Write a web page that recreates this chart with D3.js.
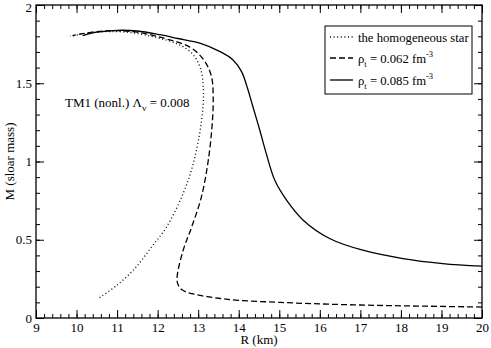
<!DOCTYPE html>
<html>
<head>
<meta charset="utf-8">
<script src="https://cdnjs.cloudflare.com/ajax/libs/d3/7.8.5/d3.min.js"></script>
<style>
	body { margin: 0; background: #fff; }
	svg text { font-family: "Liberation Serif", "Times New Roman", serif; fill: #000; }
	.tick line { stroke: #000; stroke-width: 1; }
</style>
</head>
<body>
<svg width="491" height="348"></svg>
<script>
	// mass-radius curves, [R (km), M (solar mass)]
	var homogeneous = [[10.57,0.13],[11.0,0.21],[11.45,0.32],[11.85,0.454],[12.22,0.582],[12.63,0.796],
		[12.88,0.988],[13.08,1.254],[13.13,1.45],[13.05,1.6],[12.85,1.69],[12.5,1.75],[12.0,1.79],
		[11.5,1.818],[11.0,1.83],[10.5,1.826],[10.1,1.812],[9.84,1.8]];
	var rho062 = [[20,0.07],[19,0.074],[18,0.078],[17,0.083],[16,0.09],[15,0.1],[14,0.113],
		[13.4,0.13],[12.85,0.155],[12.6,0.18],[12.5,0.215],[12.48,0.262],[12.63,0.433],[12.84,0.582],
		[13.08,0.774],[13.25,1.009],[13.35,1.254],[13.37,1.41],[13.33,1.54],[13.15,1.645],[12.8,1.73],
		[12.06,1.794],[11.5,1.826],[11.0,1.836],[10.5,1.83],[10.1,1.815],[9.9,1.805]];
	var rho085 = [[10.15,1.805],[10.5,1.826],[11.0,1.838],[11.5,1.834],[12.06,1.81],[12.5,1.786],
		[13.04,1.756],[13.54,1.702],[13.86,1.649],[14.07,1.574],[14.23,1.457],[14.35,1.35],
		[14.52,1.2],[14.68,1.05],[14.89,0.88],[15.18,0.753],[15.59,0.625],[16.24,0.508],
		[17.06,0.433],[18.05,0.38],[19.03,0.348],[20,0.331]];

	var xMajor = d3.range(9, 20.01, 1),
		xMinor = d3.range(9, 20.01, 0.2),
		yMajor = [0, 0.5, 1, 1.5, 2],
		yMinor = d3.range(0, 2.001, 0.1);

	var series = [
		{ name: "homogeneous", data: homogeneous, dash: "1,2.6" },
		{ name: "rho062", data: rho062, dash: "6,3" },
		{ name: "rho085", data: rho085, dash: null }
	];

	var svg = d3.select("svg");
	var pL = 36, pR = 482, pT = 5, pB = 318;

	var x = d3.scaleLinear().domain([9, 20]).range([pL, pR]);
	var y = d3.scaleLinear().domain([0, 2]).range([pB, pT]);

	var fmtY = function(d){ return d === 0 || d === 1 || d === 2 ? d3.format("d")(d) : d3.format(".1f")(d); };

	// minor ticks, all four sides, pointing inwards
	svg.append("g").attr("transform", "translate(0," + pB + ")")
		.call(d3.axisBottom(x).tickValues(xMinor).tickSize(-4).tickSizeOuter(0).tickFormat(""));
	svg.append("g").attr("transform", "translate(0," + pT + ")")
		.call(d3.axisTop(x).tickValues(xMinor).tickSize(-4).tickSizeOuter(0).tickFormat(""));
	svg.append("g").attr("transform", "translate(" + pL + ",0)")
		.call(d3.axisLeft(y).tickValues(yMinor).tickSize(-4).tickSizeOuter(0).tickFormat(""));
	svg.append("g").attr("transform", "translate(" + pR + ",0)")
		.call(d3.axisRight(y).tickValues(yMinor).tickSize(-4).tickSizeOuter(0).tickFormat(""));

	// major ticks
	svg.append("g").attr("class", "xaxis").attr("transform", "translate(0," + pB + ")")
		.call(d3.axisBottom(x).tickValues(xMajor).tickSize(-8).tickSizeOuter(0).tickPadding(5).tickFormat(d3.format("d")));
	svg.append("g").attr("transform", "translate(0," + pT + ")")
		.call(d3.axisTop(x).tickValues(xMajor).tickSize(-8).tickSizeOuter(0).tickFormat(""));
	svg.append("g").attr("class", "yaxis").attr("transform", "translate(" + pL + ",0)")
		.call(d3.axisLeft(y).tickValues(yMajor).tickSize(-8).tickSizeOuter(0).tickPadding(4).tickFormat(fmtY));
	svg.append("g").attr("transform", "translate(" + pR + ",0)")
		.call(d3.axisRight(y).tickValues(yMajor).tickSize(-8).tickSizeOuter(0).tickFormat(""));

	svg.selectAll(".domain").remove();
	svg.selectAll(".xaxis text, .yaxis text").style("font-size", "13px").style("font-family", "Liberation Serif, serif");
	// keep the top label "2" inside the picture
	svg.selectAll(".yaxis .tick text").filter(function(d){ return d === 2; }).attr("dy", "0.5em");

	// frame
	svg.append("rect")
		.attr("x", pL).attr("y", pT)
		.attr("width", pR - pL).attr("height", pB - pT)
		.attr("fill", "none").attr("stroke", "#000").attr("stroke-width", 1.3);

	var line = d3.line()
		.x(function(d){ return x(d[0]); })
		.y(function(d){ return y(d[1]); })
		.curve(d3.curveCatmullRom.alpha(0.5));

	svg.selectAll("path.curve")
		.data(series)
		.enter().append("path")
		.attr("class", "curve")
		.attr("d", function(d){ return line(d.data); })
		.attr("fill", "none")
		.attr("stroke", "#000")
		.attr("stroke-width", 1.3)
		.attr("stroke-dasharray", function(d){ return d.dash; });

	// axis titles
	svg.append("text")
		.attr("x", (pL + pR) / 2).attr("y", 344)
		.attr("text-anchor", "middle").style("font-size", "13px")
		.text("R (km)");
	svg.append("text")
		.attr("transform", "translate(14," + (pT + pB) / 2 + ") rotate(-90)")
		.attr("text-anchor", "middle").style("font-size", "13px")
		.text("M (sloar mass)");

	// annotation
	var ann = svg.append("text").attr("x", 65).attr("y", 107).style("font-size", "13px");
	ann.append("tspan").text("TM1 (nonl.) \u039B");
	ann.append("tspan").attr("dy", 4).style("font-size", "9px").text("v");
	ann.append("tspan").attr("dy", -4).text(" = 0.008");

	// legend
	var lg = svg.append("g");
	lg.append("rect")
		.attr("x", 325).attr("y", 26).attr("width", 147).attr("height", 68)
		.attr("fill", "#fff").attr("stroke", "#000").attr("stroke-width", 1);

	var rows = [37, 58, 80];
	lg.selectAll("line.key")
		.data(series)
		.enter().append("line")
		.attr("class", "key")
		.attr("x1", 330).attr("x2", 353)
		.attr("y1", function(d, i){ return rows[i]; })
		.attr("y2", function(d, i){ return rows[i]; })
		.attr("stroke", "#000").attr("stroke-width", 1.3)
		.attr("stroke-dasharray", function(d){ return d.dash; });

	lg.append("text").attr("x", 358).attr("y", rows[0] + 4.5).style("font-size", "12.7px")
		.text("the homogeneous star");

	[["0.062", 1], ["0.085", 2]].forEach(function(p){
		var t = lg.append("text").attr("x", 358).attr("y", rows[p[1]] + 4.5).style("font-size", "12.7px");
		t.append("tspan").text("\u03C1");
		t.append("tspan").attr("dy", 4).style("font-size", "8.5px").text("t");
		t.append("tspan").attr("dy", -4).text(" = " + p[0] + " fm");
		t.append("tspan").attr("dy", -6).style("font-size", "8.5px").text("-3");
	});
</script>
</body>
</html>
